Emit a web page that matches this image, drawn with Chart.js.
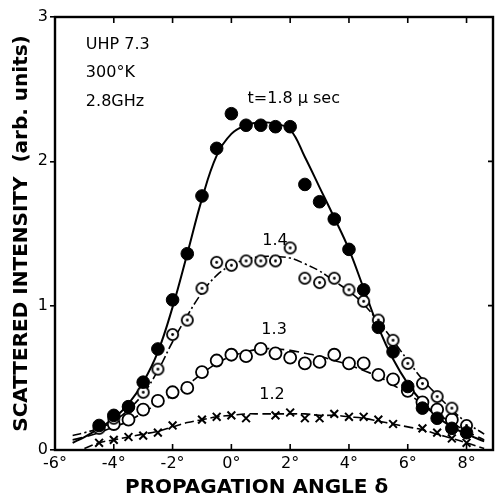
<!DOCTYPE html>
<html>
<head>
<meta charset="utf-8">
<script src="https://cdn.jsdelivr.net/npm/chart.js@4/dist/chart.umd.min.js"></script>
<style>
  html, body { margin: 0; padding: 0; background: #fff; overflow: hidden; }
  canvas { display: block; }
</style>
</head>
<body>
<canvas id="chart" width="495" height="500"></canvas>
<script>
// measured points, propagation angle in degrees
const angles = [-4.5, -4, -3.5, -3, -2.5, -2, -1.5, -1, -0.5, 0, 0.5, 1, 1.5, 2, 2.5, 3, 3.5, 4, 4.5, 5, 5.5, 6, 6.5, 7, 7.5, 8];
const t18 = [0.17, 0.24, 0.30, 0.47, 0.70, 1.04, 1.36, 1.76, 2.09, 2.33, 2.25, 2.25, 2.24, 2.24, 1.84, 1.72, 1.60, 1.39, 1.11, 0.85, 0.68, 0.44, 0.29, 0.22, 0.15, 0.12];
const t14 = [0.15, 0.22, 0.30, 0.40, 0.56, 0.80, 0.90, 1.12, 1.30, 1.28, 1.31, 1.31, 1.31, 1.40, 1.19, 1.16, 1.19, 1.11, 1.03, 0.90, 0.76, 0.60, 0.46, 0.37, 0.29, 0.17];

const angles13 = [-4, -3.5, -3, -2.5, -2, -1.5, -1, -0.5, 0, 0.5, 1, 1.5, 2, 2.5, 3, 3.5, 4, 4.5, 5, 5.5, 6, 6.5, 7, 7.5];
const t13 = [0.18, 0.21, 0.28, 0.34, 0.40, 0.43, 0.54, 0.62, 0.66, 0.65, 0.70, 0.67, 0.64, 0.60, 0.61, 0.66, 0.60, 0.60, 0.52, 0.49, 0.41, 0.33, 0.28, 0.21];

const angles12 = [-4.5, -4, -3.5, -3, -2.5, -2, -1, -0.5, 0, 0.5, 1.5, 2, 2.5, 3, 3.5, 4, 4.5, 5, 5.5, 6.5, 7, 7.5, 8];
const t12 = [0.05, 0.07, 0.09, 0.10, 0.12, 0.17, 0.21, 0.23, 0.24, 0.22, 0.24, 0.26, 0.22, 0.22, 0.25, 0.23, 0.23, 0.21, 0.18, 0.15, 0.12, 0.08, 0.05];

// hand drawn fit curves
const fitAngles = [-5.4, -5, -4.5, -4, -3.5, -3, -2.5, -2, -1.5, -1, -0.5, 0, 0.5, 1, 1.5, 2, 2.5, 3, 3.5, 4, 4.5, 5, 5.5, 6, 6.5, 7, 7.5, 8, 8.6];
const fit18 = [0.05, 0.09, 0.15, 0.22, 0.32, 0.47, 0.68, 0.99, 1.36, 1.74, 2.04, 2.19, 2.25, 2.27, 2.26, 2.22, 2.03, 1.82, 1.61, 1.39, 1.12, 0.85, 0.63, 0.46, 0.33, 0.23, 0.16, 0.11, 0.06];
const fit14 = [0.10, 0.12, 0.15, 0.20, 0.28, 0.39, 0.55, 0.75, 0.93, 1.09, 1.21, 1.28, 1.32, 1.34, 1.34, 1.33, 1.29, 1.24, 1.17, 1.10, 1.01, 0.89, 0.76, 0.62, 0.49, 0.38, 0.28, 0.19, 0.11];
const fit13 = [0.07, 0.09, 0.12, 0.16, 0.20, 0.26, 0.32, 0.38, 0.45, 0.53, 0.60, 0.65, 0.68, 0.70, 0.70, 0.69, 0.67, 0.65, 0.62, 0.59, 0.55, 0.51, 0.45, 0.39, 0.32, 0.25, 0.19, 0.13, 0.07];
const fit12 = [null, 0.01, 0.05, 0.07, 0.09, 0.11, 0.13, 0.16, 0.19, 0.21, 0.23, 0.24, 0.25, 0.25, 0.25, 0.25, 0.25, 0.24, 0.24, 0.23, 0.22, 0.20, 0.18, 0.16, 0.14, 0.11, 0.08, 0.05, 0.01];

const xTicks = [-6, -4, -2, 0, 2, 4, 6, 8];
const yTicks = [0, 1, 2, 3];

const pts = (xs, ys) => xs.map((x, i) => ({ x: x, y: ys[i] }));

// open circle with a dot in the middle
function dottedCircle() {
    const c = document.createElement('canvas');
    c.width = 15; c.height = 15;
    const g = c.getContext('2d');
    g.strokeStyle = '#000';
    g.lineWidth = 1.8;
    g.fillStyle = '#fff';
    g.beginPath();
    g.arc(7.5, 7.5, 5.6, 0, Math.PI * 2);
    g.fill();
    g.stroke();
    g.fillStyle = '#000';
    g.beginPath();
    g.arc(7.5, 7.5, 1.4, 0, Math.PI * 2);
    g.fill();
    return c;
}

const curve = (ys, dash, w) => ({
    data: pts(fitAngles, ys),
    showLine: true,
    borderColor: '#000',
    borderWidth: w,
    borderDash: dash,
    pointRadius: 0,
    tension: 0.4,
    fill: false,
    order: 5
});

const frame = {
    id: 'frame',
    afterDraw(chart) {
        const { ctx, chartArea: a, scales: { x, y } } = chart;
        ctx.save();
        ctx.strokeStyle = '#000';
        ctx.lineWidth = 2.4;
        ctx.strokeRect(a.left, a.top, a.right - a.left, a.bottom - a.top);
        ctx.lineWidth = 1.6;
        ctx.beginPath();
        xTicks.forEach(v => {
            const px = x.getPixelForValue(v);
            ctx.moveTo(px, a.bottom); ctx.lineTo(px, a.bottom - 6);
            ctx.moveTo(px, a.top); ctx.lineTo(px, a.top + 6);
        });
        yTicks.forEach(v => {
            const py = y.getPixelForValue(v);
            ctx.moveTo(a.right, py); ctx.lineTo(a.right - 5, py);
        });
        ctx.stroke();

        ctx.fillStyle = '#000';
        ctx.textBaseline = 'middle';
        ctx.textAlign = 'left';
        ctx.font = '16px "DejaVu Sans"';
        const notes = [
            ['UHP 7.3', -4.95, 2.81],
            ['300°K', -4.95, 2.61],
            ['2.8GHz', -4.95, 2.41],
            ['t=1.8 μ sec', 0.55, 2.43],
            ['1.4', 1.05, 1.45],
            ['1.3', 1.02, 0.83],
            ['1.2', 0.95, 0.38]
        ];
        notes.forEach(([t, vx, vy]) => {
            ctx.fillText(t, x.getPixelForValue(vx), y.getPixelForValue(vy));
        });
        ctx.restore();
    }
};

const ctx = document.getElementById('chart').getContext('2d');
new Chart(ctx, {
    type: 'scatter',
    data: {
        datasets: [
            {
                label: 't = 1.8 μsec',
                data: pts(angles, t18),
                pointStyle: 'circle',
                pointRadius: 6.3,
                backgroundColor: '#000',
                borderColor: '#000',
                borderWidth: 1,
                order: 1
            },
            {
                label: '1.4',
                data: pts(angles, t14),
                pointStyle: dottedCircle(),
                order: 2
            },
            {
                label: '1.3',
                data: pts(angles13, t13),
                pointStyle: 'circle',
                pointRadius: 6,
                backgroundColor: '#fff',
                borderColor: '#000',
                borderWidth: 1.8,
                order: 3
            },
            {
                label: '1.2',
                data: pts(angles12, t12),
                pointStyle: 'crossRot',
                pointRadius: 5.5,
                borderColor: '#000',
                borderWidth: 2,
                order: 4
            },
            curve(fit18, [], 2),
            curve(fit14, [9, 3, 2, 3], 1.6),
            curve(fit13, [10, 5], 1.6),
            curve(fit12, [9, 4], 1.6)
        ]
    },
    options: {
        responsive: false,
        animation: false,
        layout: { autoPadding: false, padding: { top: 17, right: 2, left: 0, bottom: 0 } },
        plugins: {
            legend: { display: false },
            tooltip: { enabled: false }
        },
        scales: {
            x: {
                type: 'linear',
                min: -6,
                max: 8.9,
                afterFit: s => { s.height = 50; s.paddingLeft = 0; s.paddingRight = 0; },
                afterBuildTicks: s => { s.ticks = xTicks.map(v => ({ value: v })); },
                grid: { display: false, drawTicks: false },
                border: { display: false },
                ticks: {
                    color: '#000',
                    padding: 4,
                    font: { family: 'DejaVu Sans', size: 16 },
                    callback: v => v + '°'
                },
                title: {
                    display: true,
                    text: 'PROPAGATION ANGLE δ\u00a0\u00a0\u00a0\u00a0\u00a0',
                    color: '#000',
                    padding: { top: 0, bottom: 0 },
                    font: { family: 'DejaVu Sans', size: 20, weight: 'bold' }
                }
            },
            y: {
                type: 'linear',
                min: 0,
                max: 3,
                afterFit: s => { s.width = 55; s.paddingTop = 0; s.paddingBottom = 0; },
                afterBuildTicks: s => { s.ticks = yTicks.map(v => ({ value: v })); },
                grid: { drawOnChartArea: false, drawTicks: true, tickLength: 5, color: '#000', lineWidth: 1.6 },
                border: { display: false },
                ticks: {
                    color: '#000',
                    padding: 2,
                    font: { family: 'DejaVu Sans', size: 16 }
                },
                title: {
                    display: true,
                    text: 'SCATTERED INTENSITY  (arb. units)',
                    color: '#000',
                    padding: { top: 10, bottom: 0 },
                    font: { family: 'DejaVu Sans', size: 20, weight: 'bold' }
                }
            }
        }
    },
    plugins: [frame]
});
</script>
</body>
</html>
